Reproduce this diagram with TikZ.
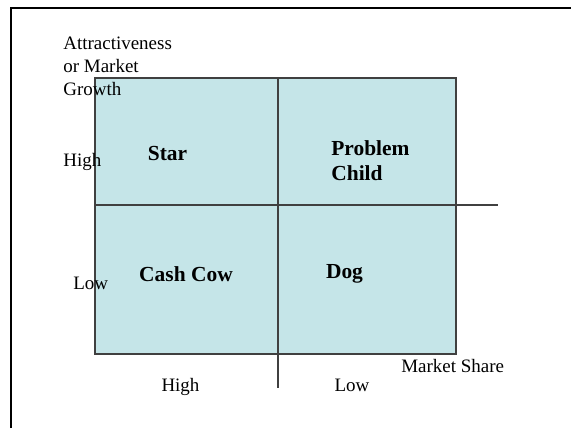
\documentclass[tikz,border=0pt]{standalone}
\usepackage{xcolor}
\usepackage{fontspec}
\setmainfont{Liberation Serif}
\usepackage{tikz}
\usetikzlibrary{positioning}
\definecolor{cellfill}{RGB}{197,229,232}
\definecolor{gridline}{RGB}{64,64,64}
\tikzset{%
  axis label/.style={
    inner sep=0pt,
    align=left,
    font=\fontsize{10.8}{13.1}\selectfont
  },
  cell label/.style={
    inner sep=0pt,
    align=left,
    font=\fontsize{12.2}{14.2}\selectfont\bfseries
  },
}

\begin{document}
\begin{tikzpicture}
    \useasboundingbox (0,0) rectangle (11.42,-8.56);
    \draw [line width=1.2pt] (0.22,-8.56) -- (0.22,-0.16) -- (11.42,-0.16);
    \draw [gridline,fill=cellfill,line width=0.6pt] (1.90,-1.56) rectangle (9.12,-7.08);
    \draw [gridline,line width=0.6pt] (5.56,-1.56) -- (5.56,-7.76);
    \draw [gridline,line width=0.6pt] (1.90,-4.10) -- (9.96,-4.10);

    \node (a) [axis label,anchor=west,xshift=1.26cm,yshift=-1.32cm]
    {Attractiveness\\or Market\\Growth};
    \node (b) [axis label,anchor=base west,xshift=1.26cm,yshift=-3.32cm] {High};
    \node (c) [axis label,anchor=base west,xshift=1.46cm,yshift=-5.78cm] {Low};
    \node (d) [axis label,anchor=base west,xshift=8.02cm,yshift=-7.44cm] {Market Share};
    \node (e) [axis label,anchor=base,xshift=3.61cm,yshift=-7.82cm] {High};
    \node (f) [axis label,anchor=base,xshift=7.04cm,yshift=-7.82cm] {Low};

    \node (g) [cell label,anchor=base,xshift=3.35cm,yshift=-3.20cm] {Star};
    \node (h) [cell label,anchor=west,xshift=6.62cm,yshift=-3.21cm]
    {Problem\\Child};
    \node (i) [cell label,anchor=base,xshift=3.72cm,yshift=-5.63cm] {Cash Cow};
    \node (j) [cell label,anchor=base,xshift=6.89cm,yshift=-5.56cm] {Dog};
\end{tikzpicture}
\end{document}
